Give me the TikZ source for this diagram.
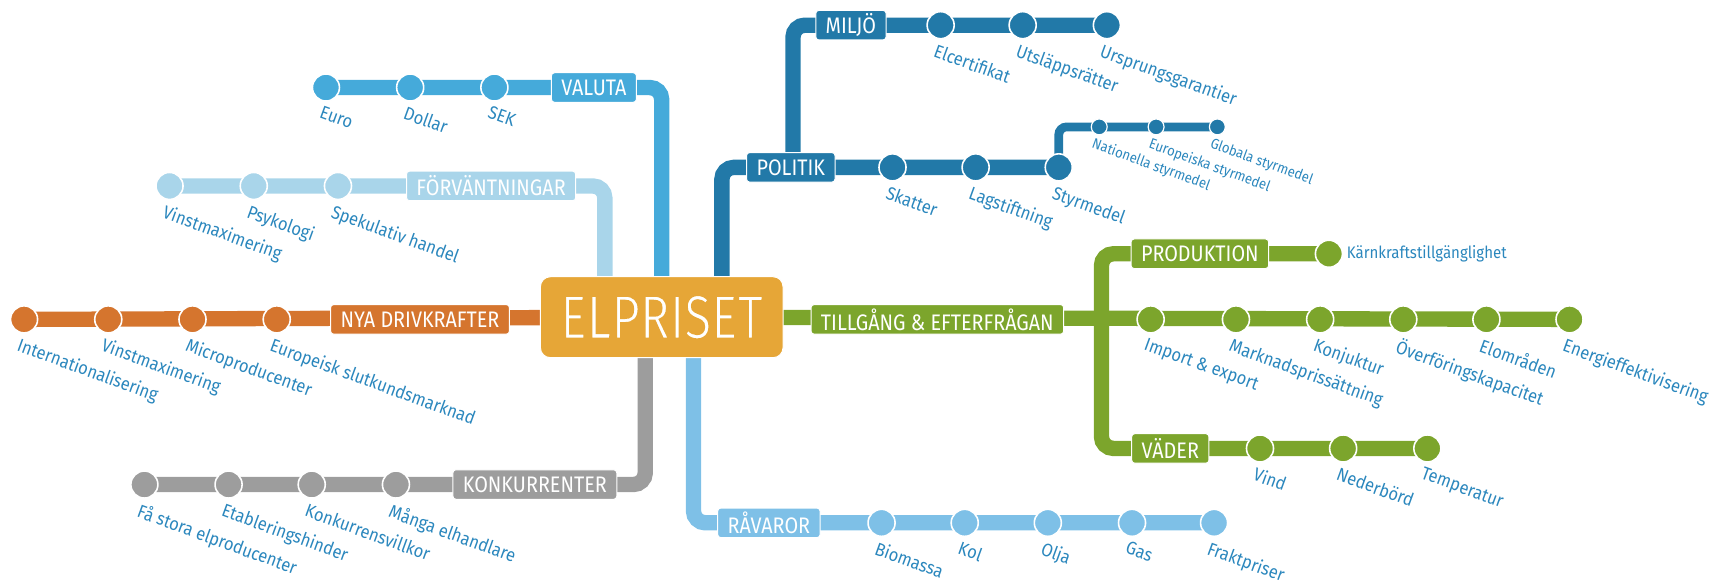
\documentclass[tikz,border=0pt]{standalone}
\usepackage{fontspec}
\setmainfont{Fira Sans}
\newfontfamily\lblfont[FakeStretch=0.9]{Fira Sans}
\newfontfamily\boxfont[FakeStretch=0.88]{Fira Sans}
\newfontfamily\bigfont[FakeStretch=0.8]{Fira Sans}
\definecolor{cvaluta}{HTML}{45AADA}
\definecolor{cforv}{HTML}{A9D5EA}
\definecolor{cnya}{HTML}{D5752E}
\definecolor{ckonk}{HTML}{9D9D9D}
\definecolor{craw}{HTML}{7EC0E7}
\definecolor{cpol}{HTML}{2279A8}
\definecolor{cgreen}{HTML}{7CA52C}
\definecolor{corange}{HTML}{E6A637}
\definecolor{ctext}{HTML}{2B87BD}
\pgfdeclarelayer{bg}
\pgfsetlayers{bg,main}
\newcommand\thintext[1]{\special{pdf:literal direct 2 Tr 0.8 w 0.902 0.651 0.216 RG}#1\special{pdf:literal direct 0 Tr 0.4 w}}
\tikzset{
  track/.style={line width=7.7pt, rounded corners=6pt, draw=#1},
  thintrack/.style={line width=4.4pt, rounded corners=4pt, draw=#1},
  stn/.style={circle, fill=#1, draw=white, line width=0.8pt, minimum size=13.6pt, inner sep=0pt},
  smallstn/.style={circle, fill=#1, draw=white, line width=0.6pt, minimum size=8pt, inner sep=0pt},
  tag/.style={fill=#1, draw=white, line width=0.5pt, rounded corners=1.5pt, text=white, font=\boxfont\fontsize{11.3}{12}\selectfont, minimum height=14.85pt, inner xsep=5pt, inner ysep=0pt},
  lbl/.style={rotate=-20, anchor=north west, inner sep=0pt, text=ctext, font=\lblfont\fontsize{9.2}{10}\selectfont},
  tinylbl/.style={rotate=-20, anchor=north west, inner sep=0pt, text=ctext, font=\lblfont\fontsize{7.3}{8}\selectfont},
  hub/.style={fill=corange, draw=white, line width=0.5pt, rounded corners=5pt, minimum width=122pt, minimum height=40.7pt, text=white, font=\bigfont\fontsize{31}{31}\selectfont, inner sep=0pt},
}
\newcommand\stat[5]{% name, x, y, colour, label
  \node[stn=#4] (#1) at (#2,#3) {};
  \node[lbl] (#1-l) at ([shift={(-3,16)}]#1.center) {#5};
}
\newcommand\smallstat[5]{%
  \node[smallstn=#4] (#1) at (#2,#3) {};
  \node[tinylbl] (#1-l) at ([shift={(-4,9)}]#1.center) {#5};
}
\begin{document}
\begin{tikzpicture}[x=0.55pt, y=-0.55pt]
\useasboundingbox (0,0) rectangle (1568,533);

% hub
\node[hub] (elpriset) at (605,290) {\thintext{ELPRISET}};

% VALUTA
\stat{euro}{298}{80}{cvaluta}{Euro}
\stat{dollar}{375}{80}{cvaluta}{Dollar}
\stat{sek}{452}{80}{cvaluta}{SEK}
\node[tag=cvaluta] (valuta) at (543,80) {VALUTA};
\coordinate (valuta-bend) at (605,80);

% FÖRVÄNTNINGAR
\stat{vinst1}{155}{170}{cforv}{Vinstmaximering}
\stat{psyk}{232}{170}{cforv}{Psykologi}
\stat{spek}{309}{170}{cforv}{Spekulativ handel}
\node[tag=cforv] (forv) at (449,170) {FÖRVÄNTNINGAR};
\coordinate (forv-bend) at (553,170);

% NYA DRIVKRAFTER
\stat{intl}{22}{292}{cnya}{Internationalisering}
\stat{vinst2}{99}{292}{cnya}{Vinstmaximering}
\stat{micro}{176}{292}{cnya}{Microproducenter}
\stat{europ}{253}{292}{cnya}{Europeisk slutkundsmarknad}
\node[tag=cnya] (nya) at (384,292) {NYA DRIVKRAFTER};

% KONKURRENTER
\stat{fa}{132}{443}{ckonk}{Få stora elproducenter}
\stat{etab}{209}{443}{ckonk}{Etableringshinder}
\stat{konkv}{285}{443}{ckonk}{Konkurrensvillkor}
\stat{manga}{362}{443}{ckonk}{Många elhandlare}
\node[tag=ckonk] (konk) at (489,443) {KONKURRENTER};
\coordinate (konk-bend) at (590,443);

% RÅVAROR
\node[tag=craw] (ravaror) at (703,478) {RÅVAROR};
\stat{bio}{806}{478}{craw}{Biomassa}
\stat{kol}{882}{478}{craw}{Kol}
\stat{olja}{958}{478}{craw}{Olja}
\stat{gas}{1035}{478}{craw}{Gas}
\stat{frakt}{1110}{478}{craw}{Fraktpriser}
\coordinate (raw-bend) at (634,478);

% POLITIK
\node[tag=cpol] (politik) at (723,153) {POLITIK};
\stat{skatter}{816}{153}{cpol}{Skatter}
\stat{lag}{892}{153}{cpol}{Lagstiftning}
\stat{styr}{968}{153}{cpol}{Styrmedel}
\coordinate (pol-bend) at (660,153);

% MILJÖ
\node[tag=cpol] (miljo) at (778,23) {MILJÖ};
\stat{elcert}{860}{23}{cpol}{Elcertifikat}
\stat{utsl}{935}{23}{cpol}{Utsläppsrätter}
\stat{urspr}{1012}{23}{cpol}{Ursprungsgarantier}
\coordinate (miljo-root) at (725,153);
\coordinate (miljo-bend) at (725,23);

% styrmedel sub-branch
\smallstat{nat}{1005}{116}{cpol}{Nationella styrmedel}
\smallstat{eur}{1057}{116}{cpol}{Europeiska styrmedel}
\smallstat{glob}{1113}{116}{cpol}{Globala styrmedel}
\coordinate (styr-bend) at (968,116);

% TILLGÅNG & EFTERFRÅGAN
\node[tag=cgreen] (tillg) at (857,292) {TILLGÅNG \& EFTERFRÅGAN};
\stat{import}{1052}{292}{cgreen}{Import \& export}
\stat{mark}{1130}{292}{cgreen}{Marknadsprissättning}
\stat{konj}{1207}{292}{cgreen}{Konjuktur}
\stat{overf}{1283}{292}{cgreen}{Överföringskapacitet}
\stat{elomr}{1359}{292}{cgreen}{Elområden}
\stat{energi}{1435}{292}{cgreen}{Energieffektivisering}

% PRODUKTION
\node[tag=cgreen] (prod) at (1097,232) {PRODUKTION};
\node[stn=cgreen] (karn) at (1215,232) {};
\node[anchor=west, inner sep=0pt, text=ctext, font=\lblfont\fontsize{8.4}{10}\selectfont] (karn-l) at (1231,232) {Kärnkraftstillgänglighet};
\coordinate (prod-bend) at (1007,232);

% VÄDER
\node[tag=cgreen] (vader) at (1070,410) {VÄDER};
\stat{vind}{1152}{410}{cgreen}{Vind}
\stat{neder}{1228}{410}{cgreen}{Nederbörd}
\stat{temp}{1305}{410}{cgreen}{Temperatur}
\coordinate (vader-bend) at (1007,410);

\begin{pgfonlayer}{bg}
  \draw[track=cvaluta] (euro.center) -- (valuta-bend) -- (valuta-bend |- elpriset.center);
  \draw[track=cforv] (vinst1.center) -- (forv-bend) -- (forv-bend |- elpriset.center);
  \draw[track=cnya] (intl.center) -- (elpriset.center);
  \draw[track=ckonk] (fa.center) -- (konk-bend) -- (konk-bend |- elpriset.center);
  \draw[track=craw] (raw-bend |- elpriset.center) -- (raw-bend) -- (frakt.center);
  \draw[track=cpol] (pol-bend |- elpriset.center) -- (pol-bend) -- (styr.center);
  \draw[track=cpol] (miljo-root) -- (miljo-bend) -- (urspr.center);
  \draw[thintrack=cpol] (styr.center) -- (styr-bend) -- (glob.center);
  \draw[track=cgreen] (elpriset.center) -- (energi.center);
  \draw[track=cgreen] (karn.center) -- (prod-bend) -- (vader-bend) -- (temp.center);
\end{pgfonlayer}
\end{tikzpicture}
\end{document}
